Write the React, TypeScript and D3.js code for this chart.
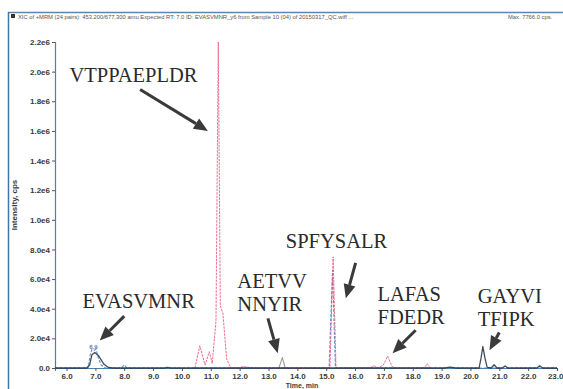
import { useEffect, useRef } from 'react'
import * as d3 from 'd3'

// axis ticks as printed on the scan
const yTickValues = [0, 2e5, 4e5, 6e5, 8e5, 1.0e6, 1.2e6, 1.4e6, 1.6e6, 1.8e6, 2.0e6, 2.2e6]
const yTickLabels = ['0.0', '2.0e4', '4.0e4', '6.0e4', '8.0e4', '1.0e6', '1.2e6', '1.4e6', '1.6e6', '1.8e6', '2.0e6', '2.2e6']
const xTickValues = [6, 7, 8, 9, 10, 11, 12, 13, 14, 15, 16, 17, 18, 19, 20, 21, 22, 23]

// traces, [time (min), intensity (cps)]
const navyTrace = [
  [5.6, 0], [6.7, 0], [6.8, 2e4], [6.88, 9e4], [6.98, 1.05e5], [7.1, 8.5e4], [7.2, 5.5e4],
  [7.3, 2.5e4], [7.45, 4e3], [7.6, 0], [9.4, 0], [9.5, 4e3], [9.6, 0], [19.1, 0], [19.3, 6e3],
  [19.5, 0], [20.3, 0], [20.37, 7e4], [20.43, 1.45e5], [20.5, 7e4], [20.58, 4e3], [20.72, 0],
  [20.82, 2.2e4], [20.92, 0], [21.1, 0], [21.2, 1.4e4], [21.3, 0], [22.3, 0], [22.4, 1.5e4],
  [22.5, 0], [23, 0],
]
const blueTrace = [
  [5.6, 0], [6.75, 0], [6.82, 9e4], [6.88, 1.25e5], [6.95, 1.2e5], [7.02, 1.25e5], [7.1, 7e4],
  [7.2, 2e4], [7.35, 0], [7.9, 0], [8.0, 2e4], [8.1, 0], [15.1, 0], [15.22, 6.6e5],
  [15.32, 0], [23, 0],
]
const redTrace = [
  [10.45, 0], [10.62, 1.5e5], [10.8, 2e4], [10.95, 1.1e5], [11.05, 3e4], [11.18, 3.2e5],
  [11.26, 2.2e6], [11.33, 4.2e5], [11.42, 3.7e5], [11.55, 6e4], [11.7, 0], [12.0, 0],
  [12.1, 1e4], [12.3, 5e3], [12.5, 0], [15.13, 0], [15.24, 7.5e5], [15.34, 0], [16.5, 0],
  [16.65, 1.5e4], [16.8, 0], [16.98, 2e4], [17.13, 8e4], [17.28, 1e4], [17.4, 0],
  [18.4, 0], [18.5, 3e4], [18.6, 0],
]
const greyTrace = [
  [13.36, 0], [13.48, 7e4], [13.58, 0],
]

// peptide annotations: text lines, label anchor and arrow in data units
const annotations = [
  { lines: ['VTPPAEPLDR'], t: 6.1, v: 1.93e6, from: [8.55, 1.88e6], to: [10.9, 1.6e6] },
  { lines: ['EVASVMNR'], t: 6.55, v: 4.05e5, from: [8.0, 3.5e5], to: [7.15, 1.85e5] },
  { lines: ['AETVV', 'NNYIR'], t: 11.92, v: 5.4e5, from: [12.98, 3.35e5], to: [13.32, 1.0e5] },
  { lines: ['SPFYSALR'], t: 13.6, v: 8.1e5, from: [16.02, 7.1e5], to: [15.68, 4.7e5] },
  { lines: ['LAFAS', 'FDEDR'], t: 16.78, v: 4.5e5, from: [18.1, 2.55e5], to: [17.3, 1.0e5] },
  { lines: ['GAYVI', 'TFIPK'], t: 20.25, v: 4.4e5, from: [21.0, 2.4e5], to: [20.66, 1.2e5] },
]

export default function App() {
  const svgRef = useRef(null)

  useEffect(() => {
    const width = 563
    const height = 389
    const svg = d3.select(svgRef.current)
      .attr('width', width)
      .attr('height', height)
      .style('background', '#ffffff')

    const x = d3.scaleLinear().domain([5.6, 23.0]).range([55, 557])
    const y = d3.scaleLinear().domain([0, 2.2e6]).range([368, 42])

    // ── Frame and header ──────────────────────────────────────────
    svg.append('line')
      .attr('x1', 8).attr('x2', width).attr('y1', 12.5).attr('y2', 12.5)
      .attr('stroke', '#5a86ae').attr('stroke-width', 1.5)
    svg.append('line')
      .attr('x1', 8.5).attr('x2', 8.5).attr('y1', 12).attr('y2', height)
      .attr('stroke', '#3f77ad').attr('stroke-width', 1.5)
    svg.append('rect')
      .attr('x', 11).attr('y', 14).attr('width', 4).attr('height', 4)
      .attr('fill', '#333')
    svg.append('text')
      .attr('x', 18).attr('y', 19)
      .attr('font-family', 'Liberation Sans, Arial, sans-serif')
      .attr('font-size', 5.8)
      .attr('fill', '#555')
      .text('XIC of +MRM (24 pairs): 453.200/677.300 amu Expected RT: 7.0 ID: EVASVMNR_y6 from Sample 10 (04) of 20150317_QC.wiff ...')
    svg.append('text')
      .attr('x', 508).attr('y', 19)
      .attr('font-family', 'Liberation Sans, Arial, sans-serif')
      .attr('font-size', 5.8)
      .attr('fill', '#555')
      .text('Max. 7766.0 cps.')

    // ── Axes ───────────────────────────────────────────────────────
    const tickFont = 'Liberation Sans, Arial, sans-serif'
    const yAxis = svg.append('g')
      .attr('transform', 'translate(55,0)')
      .call(d3.axisLeft(y).tickValues(yTickValues).tickSize(3)
        .tickFormat((d, i) => yTickLabels[i]))
    yAxis.select('.domain').attr('stroke', '#4a7fb0').attr('stroke-width', 1.2)
    yAxis.selectAll('.tick line').attr('stroke', '#555')
    yAxis.selectAll('text')
      .attr('font-family', tickFont).attr('font-size', 8).attr('font-weight', 'bold')
      .attr('fill', '#3a3a3a').attr('x', -5)

    const xAxis = svg.append('g')
      .attr('transform', 'translate(0,368)')
      .call(d3.axisBottom(x).tickValues(xTickValues).tickSize(3).tickFormat(d3.format('.1f')))
    xAxis.select('.domain').attr('stroke', '#4a7fb0').attr('stroke-width', 1.2)
    xAxis.selectAll('.tick line').attr('stroke', '#555')
    xAxis.selectAll('text')
      .attr('font-family', tickFont).attr('font-size', 8).attr('font-weight', 'bold')
      .attr('fill', '#3a3a3a').attr('y', 5)
    xAxis.selectAll('.tick:last-of-type text').attr('text-anchor', 'end').attr('dx', 6)

    svg.append('text')
      .attr('x', 302).attr('y', 388)
      .attr('text-anchor', 'middle')
      .attr('font-family', tickFont).attr('font-size', 7).attr('font-weight', 'bold')
      .attr('fill', '#3a3a3a')
      .text('Time, min')
    svg.append('text')
      .attr('transform', 'translate(17,205) rotate(-90)')
      .attr('text-anchor', 'middle')
      .attr('font-family', tickFont).attr('font-size', 8).attr('font-weight', 'bold')
      .attr('fill', '#3a3a3a')
      .text('Intensity, cps')

    // ── Traces ─────────────────────────────────────────────────────
    const line = d3.line().x(d => x(d[0])).y(d => y(d[1]))
    const traces = [
      { data: blueTrace, colour: '#3f7fc4', dash: '3,1.5', w: 1.1 },
      { data: greyTrace, colour: '#8a8a8a', dash: null, w: 1.1 },
      { data: redTrace, colour: '#e8557a', dash: '2.5,1', w: 1 },
      { data: navyTrace, colour: '#1e2f3f', dash: null, w: 1.3 },
    ]
    traces.forEach(tr => {
      svg.append('path')
        .datum(tr.data)
        .attr('d', line)
        .attr('fill', 'none')
        .attr('stroke', tr.colour)
        .attr('stroke-width', tr.w)
        .attr('stroke-dasharray', tr.dash)
        .attr('stroke-linejoin', 'round')
        .attr('opacity', 0.85)
    })

    svg.append('text')
      .attr('x', x(6.93)).attr('y', y(1.3e5))
      .attr('text-anchor', 'middle')
      .attr('font-family', tickFont).attr('font-size', 6).attr('font-weight', 'bold')
      .attr('fill', '#3f7fc4')
      .text('6.9')

    // ── Annotations ────────────────────────────────────────────────
    annotations.forEach(a => {
      a.lines.forEach((ln, i) => {
        svg.append('text')
          .attr('x', x(a.t)).attr('y', y(a.v) + i * 23)
          .attr('font-family', 'Liberation Serif, Times New Roman, serif')
          .attr('font-size', 20.5)
          .attr('fill', '#2a2a2a')
          .text(ln)
      })
      const x1 = x(a.from[0]), y1 = y(a.from[1])
      const x2 = x(a.to[0]), y2 = y(a.to[1])
      const ang = Math.atan2(y2 - y1, x2 - x1)
      const headLen = 14, headW = 6
      const bx = x2 - Math.cos(ang) * headLen
      const by = y2 - Math.sin(ang) * headLen
      svg.append('line')
        .attr('x1', x1).attr('y1', y1).attr('x2', bx).attr('y2', by)
        .attr('stroke', '#3a3a3a').attr('stroke-width', 3)
      const px = -Math.sin(ang) * headW, py = Math.cos(ang) * headW
      svg.append('path')
        .attr('d', `M${x2},${y2}L${bx + px},${by + py}L${bx - px},${by - py}Z`)
        .attr('fill', '#3a3a3a')
    })

    return () => { svg.selectAll('*').remove() }
  }, [])

  return <svg ref={svgRef} style={{ position: 'absolute', left: 0, top: 0, display: 'block' }} />
}
